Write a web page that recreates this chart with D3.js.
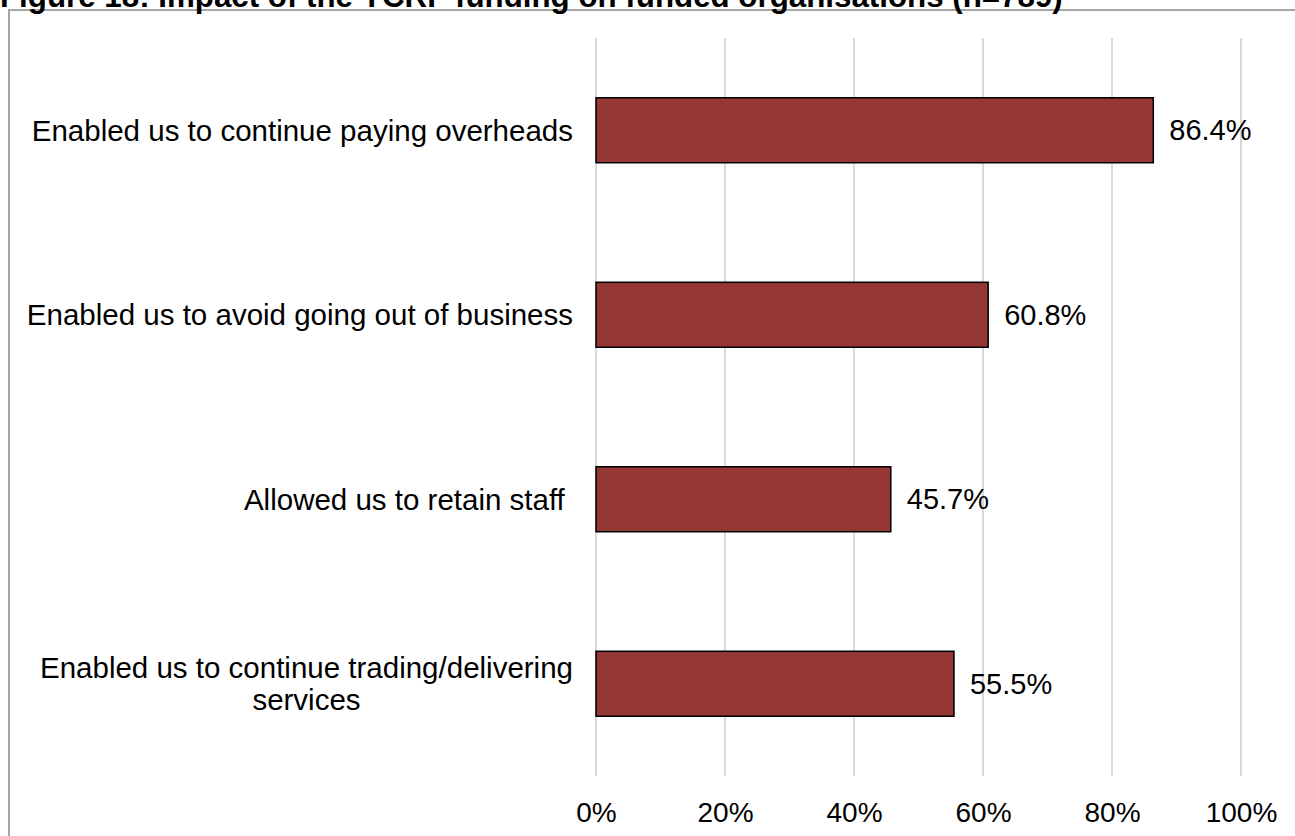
<!DOCTYPE html>
<html>
<head>
<meta charset="utf-8">
<script src="https://cdn.jsdelivr.net/npm/d3@7"></script>
<style>
  html, body { margin: 0; padding: 0; background: #ffffff; overflow: hidden; }
  svg { display: block; }
  text { font-family: "Liberation Sans", Arial, sans-serif; }
</style>
</head>
<body>
<svg id="chart" width="1295" height="836"></svg>
<script>
// Survey responses: share of funded organisations reporting each impact
const categories = [
  "Enabled us to continue paying overheads",
  "Enabled us to avoid going out of business",
  "Allowed us to retain staff ",
  "Enabled us to continue trading/delivering\nservices"
];
const values = [86.4, 60.8, 45.7, 55.5];
const tickValues = [0, 20, 40, 60, 80, 100];
const tickLabels = ["0%", "20%", "40%", "60%", "80%", "100%"];
const titleText = "Figure 18: Impact of the YCRF funding on funded organisations (n=789)";

const svg = d3.select("#chart");
const labelFont = 29.5;
const valueFont = 29;
const tickFont = 28;

// Outer frame of the chart area
svg.append("rect")
  .attr("x", 9).attr("y", 10)
  .attr("width", 1300).attr("height", 840)
  .attr("fill", "none")
  .attr("stroke", "#a6a6a6")
  .attr("stroke-width", 2);

// Title
svg.append("text")
  .attr("x", 0).attr("y", 7)
  .attr("font-size", 31.3)
  .attr("font-weight", "bold")
  .attr("fill", "#000")
  .text(titleText);

const x = d3.scaleLinear().domain([0, 100]).range([596, 1241]);
const y = d3.scaleBand().domain(categories).range([38, 776]).paddingInner(0.648).paddingOuter(0.324);

// Vertical gridlines
svg.append("g")
  .selectAll("line")
  .data(tickValues)
  .join("line")
  .attr("x1", d => x(d)).attr("x2", d => x(d))
  .attr("y1", 38).attr("y2", 776)
  .attr("stroke", "#d9d9d9")
  .attr("stroke-width", 2);

// Bottom axis labels
const xAxis = d3.axisBottom(x)
  .tickValues(tickValues)
  .tickFormat((d, i) => tickLabels[i])
  .tickSize(0)
  .tickPadding(0);
const gx = svg.append("g").attr("transform", "translate(0,822)").call(xAxis);
gx.select(".domain").remove();
gx.selectAll("text")
  .attr("font-family", "'Liberation Sans', Arial, sans-serif")
  .attr("font-size", tickFont)
  .attr("fill", "#000")
  .attr("y", 0)
  .attr("dy", 0);

// Bars
svg.append("g")
  .selectAll("rect")
  .data(values)
  .join("rect")
  .attr("x", x(0))
  .attr("y", (d, i) => y(categories[i]))
  .attr("width", d => x(d) - x(0))
  .attr("height", y.bandwidth())
  .attr("fill", "#953735")
  .attr("stroke", "#000")
  .attr("stroke-width", 1.5);

// Value labels
svg.append("g")
  .selectAll("text")
  .data(values)
  .join("text")
  .attr("x", d => x(d) + 16)
  .attr("y", (d, i) => y(categories[i]) + y.bandwidth() / 2)
  .attr("dy", "0.35em")
  .attr("font-size", valueFont)
  .attr("fill", "#000")
  .text(d => d.toFixed(1) + "%");

// Category labels (right-aligned block, multi-line centred within)
const labelRight = 573;
const lineH = 32;
const catG = svg.append("g");
categories.forEach((c, i) => {
  const lines = c.split("\n");
  const cy = y(c) + y.bandwidth() / 2;
  const t = catG.append("text")
    .attr("font-size", labelFont)
    .attr("fill", "#000")
    .style("white-space", "pre");
  lines.forEach(ln => { t.append("tspan").text(ln); });
  if (lines.length === 1) {
    t.attr("text-anchor", "end").attr("x", labelRight).attr("y", cy).attr("dy", "0.35em");
  } else {
    const widths = [];
    t.selectAll("tspan").each(function () { widths.push(this.getComputedTextLength()); });
    const mid = labelRight - d3.max(widths) / 2;
    t.attr("text-anchor", "middle");
    t.selectAll("tspan")
      .attr("x", mid)
      .attr("y", (d, j) => cy + (j - (lines.length - 1) / 2) * lineH)
      .attr("dy", "0.35em");
  }
});
</script>
</body>
</html>
